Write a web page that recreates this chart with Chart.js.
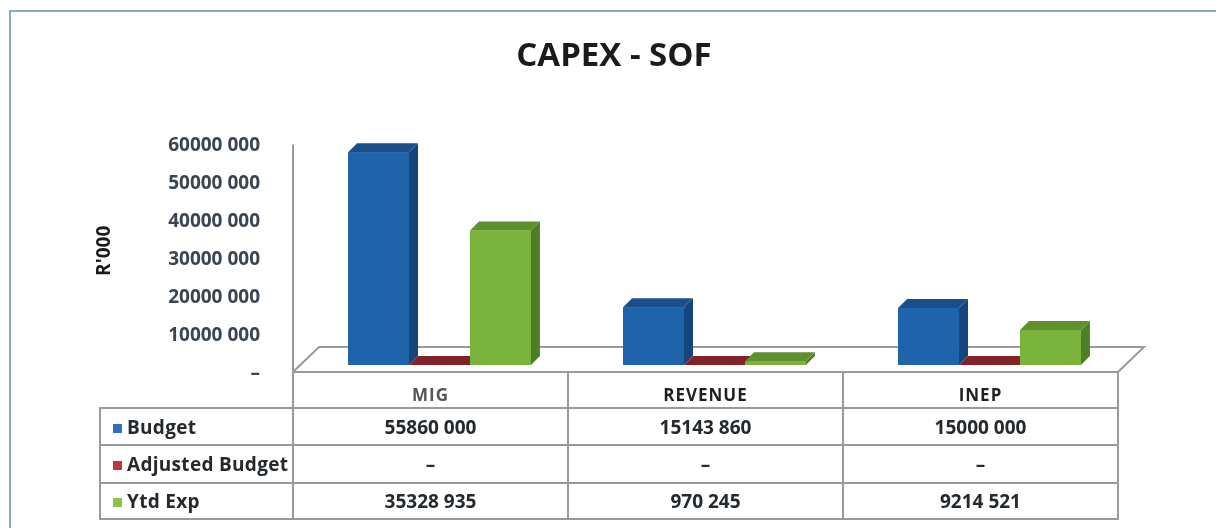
<!DOCTYPE html>
<html><head><meta charset="utf-8">
<script src="https://cdn.jsdelivr.net/npm/chart.js@4.4.0/dist/chart.umd.min.js"></script>
<style>
html,body{margin:0;padding:0;background:#fff;overflow:hidden;width:1216px;height:528px;}
#wrap{position:relative;width:1216px;height:528px;overflow:hidden;}
#frame{position:absolute;left:9px;top:10px;width:1205px;height:516px;border-left:2px solid #86abba;border-top:2px solid #86abba;}
canvas{position:absolute;left:0;top:0;}
#tbl{position:absolute;border-collapse:collapse;table-layout:fixed;font-family:'Open Sans',sans-serif;font-weight:700;font-size:19px;color:#24292e;}
#tbl td{border:2px solid #9a9a9a;padding:0;text-align:center;white-space:nowrap;overflow:hidden;}
#tbl td.blank{border:none;}
#tbl td.lab{text-align:left;padding-left:12px;letter-spacing:0.3px;}
#tbl tr.hdr td{font-size:17px;letter-spacing:1px;vertical-align:bottom;padding-bottom:1px;}
.sw{display:inline-block;width:9px;height:9px;margin-right:5px;vertical-align:1px;}
</style></head>
<body><div id="wrap"><div id="frame"></div><canvas id="c" width="1216" height="528"></canvas><table id="tbl"></table></div>
<script>
const categories = ['MIG', 'REVENUE', 'INEP'];
const seriesNames = ['Budget', 'Adjusted Budget', 'Ytd Exp'];
const budget = [55860000, 15143860, 15000000];
const adjustedBudget = [0, 0, 0];
const ytdExp = [35328935, 970245, 9214521];
const tickLabels = ['–', '10000 000', '20000 000', '30000 000', '40000 000', '50000 000', '60000 000'];
const tableValues = [
  ['55860 000', '15143 860', '15000 000'],
  ['–', '–', '–'],
  ['35328 935', '970 245', '9214 521']
];

const faces = [
  {front: '#1F63AA', top: '#1A4F8C', side: '#15457C', legend: '#2E72BB'},
  {front: '#8E2A30', top: '#82232A', side: '#6E1E24', legend: '#C0353D'},
  {front: '#7AB43C', top: '#5E912E', side: '#4E7E26', legend: '#8DC04C'}
];
const DX = 9, DY = 9, SHIFT = 9;

function poly(ctx, pts, color) {
  ctx.beginPath();
  ctx.moveTo(pts[0][0], pts[0][1]);
  for (let k = 1; k < pts.length; k++) ctx.lineTo(pts[k][0], pts[k][1]);
  ctx.closePath();
  ctx.fillStyle = color;
  ctx.fill();
}

const floorPlugin = {
  id: 'floor3d',
  beforeDatasetsDraw(chart) {
    const ctx = chart.ctx, ca = chart.chartArea, ys = chart.scales.y;
    const z = ys.getPixelForValue(0);
    const fl = ca.left - SHIFT, fr = ca.right - SHIFT, fy = z + 7, by = fy - 25, bo = 26;
    ctx.save();
    ctx.strokeStyle = '#9a9a9a';
    ctx.lineWidth = 2;
    ctx.beginPath();
    ctx.moveTo(fl, ca.top + 8); ctx.lineTo(fl, fy);
    ctx.moveTo(fl, fy); ctx.lineTo(fl + bo, by); ctx.lineTo(fr + bo, by); ctx.lineTo(fr, fy); ctx.lineTo(fl, fy);
    ctx.stroke();
    ctx.restore();
  },
  afterDatasetsDraw(chart) {
    const ctx = chart.ctx;
    ctx.save();
    for (let i = 0; i < categories.length; i++) {
      for (let d = 0; d < chart.data.datasets.length; d++) {
        const el = chart.getDatasetMeta(d).data[i];
        const p = el.getProps(['x', 'y', 'base', 'width'], true);
        const l = p.x - p.width / 2, r = p.x + p.width / 2;
        const t = Math.min(p.y, p.base), b = Math.max(p.y, p.base);
        const f = faces[d];
        poly(ctx, [[r, t], [r + DX, t - DY], [r + DX, b - DY], [r, b]], f.side);
        poly(ctx, [[l, t], [l + DX, t - DY], [r + DX, t - DY], [r, t]], f.top);
        ctx.fillStyle = f.front;
        ctx.fillRect(l, t, p.width, b - t);
      }
    }
    ctx.restore();
  }
};

const chart = new Chart(document.getElementById('c'), {
  type: 'bar',
  data: {
    labels: categories,
    datasets: [
      {label: seriesNames[0], data: budget, backgroundColor: faces[0].front},
      {label: seriesNames[1], data: adjustedBudget, backgroundColor: faces[1].front},
      {label: seriesNames[2], data: ytdExp, backgroundColor: faces[2].front}
    ]
  },
  options: {
    responsive: false,
    animation: false,
    devicePixelRatio: 1,
    layout: {padding: {left: 101, right: 89, top: 0, bottom: 163}},
    datasets: {bar: {categoryPercentage: 0.665, barPercentage: 1, borderWidth: 0}},
    plugins: {
      legend: {display: false},
      tooltip: {enabled: false},
      title: {display: true, text: 'CAPEX - SOF', color: '#1b1b1b',
        font: {family: 'Open Sans', size: 33, weight: 'bold'}, padding: {top: 37, bottom: 60}}
    },
    scales: {
      x: {display: false, offset: true},
      y: {
        min: 0, max: 60000000,
        afterFit(s) { s.width = 201; },
        grid: {display: false, drawTicks: false},
        border: {display: false},
        ticks: {stepSize: 10000000, padding: 42, labelOffset: 9, color: '#3b4550',
          font: {family: 'Open Sans', size: 19, weight: 'bold'},
          callback: (v, i) => tickLabels[i]},
        title: {display: true, text: "R'000", color: '#1b1b1b',
          font: {family: 'Open Sans', size: 19, weight: 'bold'}, padding: {top: -8, bottom: 0}}
      }
    }
  },
  plugins: [floorPlugin]
});

// data table aligned to the category scale
(function buildTable() {
  const ca = chart.chartArea;
  const n = categories.length;
  const cw = (ca.right - ca.left) / n;
  const x0 = ca.left - SHIFT;
  const tLeft = 100;
  const tbl = document.getElementById('tbl');
  tbl.style.left = (tLeft - 1) + 'px';
  tbl.style.top = (chart.scales.y.getPixelForValue(0) + 6) + 'px';
  tbl.style.width = (x0 + n * cw - tLeft + 2) + 'px';
  let html = '<colgroup><col style="width:' + (x0 - tLeft) + 'px">';
  for (let i = 0; i < n; i++) html += '<col style="width:' + cw + 'px">';
  html += '</colgroup>';
  html += '<tr class="hdr" style="height:36px"><td class="blank"></td>';
  categories.forEach((c, i) => { html += '<td style="color:' + (i === 0 ? '#555' : '#1f1f1f') + '">' + c + '</td>'; });
  html += '</tr>';
  const hs = [37, 38, 36];
  seriesNames.forEach((s, r) => {
    html += '<tr style="height:' + hs[r] + 'px"><td class="lab"><span class="sw" style="background:' + faces[r].legend + '"></span>' + s + '</td>';
    tableValues[r].forEach(v => { html += '<td>' + v + '</td>'; });
    html += '</tr>';
  });
  tbl.innerHTML = html;
})();
</script>
</body></html>
